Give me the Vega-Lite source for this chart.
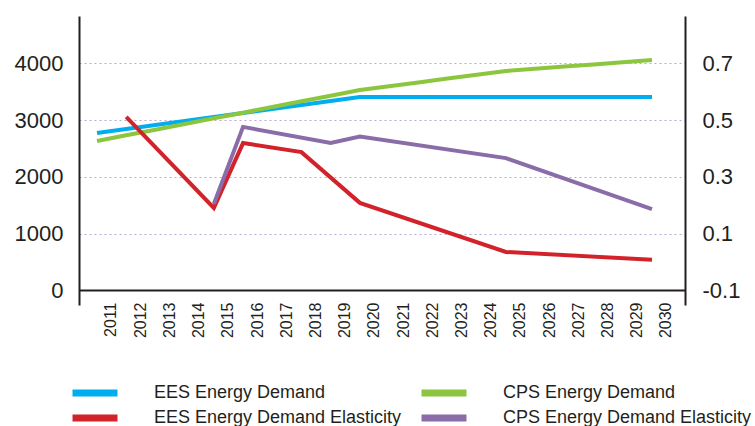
{
  "$schema": "https://vega.github.io/schema/vega-lite/v6.json",
  "width": 606,
  "height": 289,
  "autosize": {"type": "none"},
  "padding": {"left": 79, "top": 16, "right": 70, "bottom": 121},
  "background": "white",
  "config": {
    "view": {"stroke": null},
    "font": "Liberation Sans",
    "axis": {
      "labelFont": "Liberation Sans",
      "labelColor": "#231F20",
      "domainColor": "#231F20",
      "domainWidth": 2,
      "ticks": false,
      "tickSize": 0,
      "title": null
    },
    "axisX": {"labelOverlap": false, "labelFlush": false, "labelBound": false},
    "legend": {"labelFont": "Liberation Sans"}
  },
  "datasets": {
    "demand": [
      {"year": 2011, "series": "EES Energy Demand", "value": 2772},
      {"year": 2012, "series": "EES Energy Demand", "value": 2843},
      {"year": 2013, "series": "EES Energy Demand", "value": 2914},
      {"year": 2014, "series": "EES Energy Demand", "value": 2984},
      {"year": 2015, "series": "EES Energy Demand", "value": 3055},
      {"year": 2016, "series": "EES Energy Demand", "value": 3125},
      {"year": 2017, "series": "EES Energy Demand", "value": 3196},
      {"year": 2018, "series": "EES Energy Demand", "value": 3266},
      {"year": 2019, "series": "EES Energy Demand", "value": 3337},
      {"year": 2020, "series": "EES Energy Demand", "value": 3407},
      {"year": 2021, "series": "EES Energy Demand", "value": 3407},
      {"year": 2022, "series": "EES Energy Demand", "value": 3407},
      {"year": 2023, "series": "EES Energy Demand", "value": 3407},
      {"year": 2024, "series": "EES Energy Demand", "value": 3407},
      {"year": 2025, "series": "EES Energy Demand", "value": 3407},
      {"year": 2026, "series": "EES Energy Demand", "value": 3407},
      {"year": 2027, "series": "EES Energy Demand", "value": 3407},
      {"year": 2028, "series": "EES Energy Demand", "value": 3407},
      {"year": 2029, "series": "EES Energy Demand", "value": 3407},
      {"year": 2030, "series": "EES Energy Demand", "value": 3407},
      {"year": 2011, "series": "CPS Energy Demand", "value": 2631},
      {"year": 2012, "series": "CPS Energy Demand", "value": 2732},
      {"year": 2013, "series": "CPS Energy Demand", "value": 2831},
      {"year": 2014, "series": "CPS Energy Demand", "value": 2931},
      {"year": 2015, "series": "CPS Energy Demand", "value": 3032},
      {"year": 2016, "series": "CPS Energy Demand", "value": 3131},
      {"year": 2017, "series": "CPS Energy Demand", "value": 3231},
      {"year": 2018, "series": "CPS Energy Demand", "value": 3332},
      {"year": 2019, "series": "CPS Energy Demand", "value": 3430},
      {"year": 2020, "series": "CPS Energy Demand", "value": 3531},
      {"year": 2021, "series": "CPS Energy Demand", "value": 3598},
      {"year": 2022, "series": "CPS Energy Demand", "value": 3665},
      {"year": 2023, "series": "CPS Energy Demand", "value": 3732},
      {"year": 2024, "series": "CPS Energy Demand", "value": 3799},
      {"year": 2025, "series": "CPS Energy Demand", "value": 3866},
      {"year": 2026, "series": "CPS Energy Demand", "value": 3905},
      {"year": 2027, "series": "CPS Energy Demand", "value": 3944},
      {"year": 2028, "series": "CPS Energy Demand", "value": 3982},
      {"year": 2029, "series": "CPS Energy Demand", "value": 4021},
      {"year": 2030, "series": "CPS Energy Demand", "value": 4060}
    ],
    "elasticity": [
      {"year": 2012, "series": "EES Energy Demand Elasticity", "value": 0.511},
      {"year": 2015, "series": "EES Energy Demand Elasticity", "value": 0.19},
      {"year": 2016, "series": "EES Energy Demand Elasticity", "value": 0.419},
      {"year": 2018, "series": "EES Energy Demand Elasticity", "value": 0.387},
      {"year": 2020, "series": "EES Energy Demand Elasticity", "value": 0.208},
      {"year": 2025, "series": "EES Energy Demand Elasticity", "value": 0.035},
      {"year": 2030, "series": "EES Energy Demand Elasticity", "value": 0.007},
      {"year": 2015, "series": "CPS Energy Demand Elasticity", "value": 0.204},
      {"year": 2016, "series": "CPS Energy Demand Elasticity", "value": 0.476},
      {"year": 2019, "series": "CPS Energy Demand Elasticity", "value": 0.419},
      {"year": 2020, "series": "CPS Energy Demand Elasticity", "value": 0.442},
      {"year": 2025, "series": "CPS Energy Demand Elasticity", "value": 0.366},
      {"year": 2030, "series": "CPS Energy Demand Elasticity", "value": 0.186}
    ]
  },
  "layer": [
    {
      "data": {"name": "demand"},
      "mark": {"type": "line", "strokeWidth": 4, "strokeCap": "butt"},
      "encoding": {
        "x": {
          "field": "year",
          "type": "quantitative",
          "scale": {"domain": [2010.384, 2031.13], "nice": false, "zero": false},
          "axis": {
            "values": [2011, 2012, 2013, 2014, 2015, 2016, 2017, 2018, 2019, 2020, 2021, 2022, 2023, 2024, 2025, 2026, 2027, 2028, 2029, 2030],
            "format": "d",
            "labelAngle": -90,
            "labelFontSize": 16,
            "labelPadding": 12,
            "labelOffset": 14,
            "labelOverlap": false,
            "labelFlush": false,
            "offset": -15,
            "grid": false
          }
        },
        "y": {
          "field": "value",
          "type": "quantitative",
          "scale": {"domain": [-261, 4836], "nice": false, "zero": false},
          "axis": {
            "orient": "left",
            "values": [0, 1000, 2000, 3000, 4000],
            "format": "d",
            "labelFontSize": 22,
            "labelPadding": 16,
            "grid": true,
            "gridDash": [2, 3],
            "gridColor": "#B9A9D2",
            "gridWidth": 1
          }
        },
        "color": {
          "field": "series",
          "type": "nominal",
          "sort": null,
          "scale": {
            "domain": ["EES Energy Demand", "EES Energy Demand Elasticity", "CPS Energy Demand", "CPS Energy Demand Elasticity"],
            "range": ["#00AEEF", "#D2232A", "#8CC63F", "#8A6DA8"]
          },
          "legend": {
            "orient": "none",
            "legendX": 5,
            "legendY": 366,
            "columns": 2,
            "title": null,
            "symbolType": "M-3,0L3,0",
            "symbolSize": 225,
            "symbolStrokeWidth": 7,
            "labelFontSize": 18,
            "labelLimit": 400,
            "labelOffset": 48,
            "columnPadding": 5,
            "rowPadding": -3,
            "labelColor": "#231F20"
          }
        }
      }
    },
    {
      "data": {"name": "elasticity"},
      "mark": {"type": "line", "strokeWidth": 4, "strokeCap": "butt"},
      "encoding": {
        "x": {
          "field": "year",
          "type": "quantitative",
          "axis": {
            "values": [2011, 2012, 2013, 2014, 2015, 2016, 2017, 2018, 2019, 2020, 2021, 2022, 2023, 2024, 2025, 2026, 2027, 2028, 2029, 2030],
            "format": "d",
            "labelAngle": -90,
            "labelFontSize": 16,
            "labelPadding": 12,
            "labelOffset": 14,
            "labelOverlap": false,
            "labelFlush": false,
            "offset": -15,
            "grid": false
          }
        },
        "y": {
          "field": "value",
          "type": "quantitative",
          "scale": {"domain": [-0.1522, 0.8672], "nice": false, "zero": false},
          "axis": {
            "orient": "right",
            "values": [-0.1, 0.1, 0.3, 0.5, 0.7],
            "labelExpr": "datum.value < 0 ? '-' + format(-datum.value, '.1f') : format(datum.value, '.1f')",
            "labelFontSize": 22,
            "labelPadding": 17,
            "labelDy": -5,
            "grid": false
          }
        },
        "color": {"field": "series", "type": "nominal", "sort": null}
      }
    }
  ],
  "resolve": {"scale": {"y": "independent"}}
}
